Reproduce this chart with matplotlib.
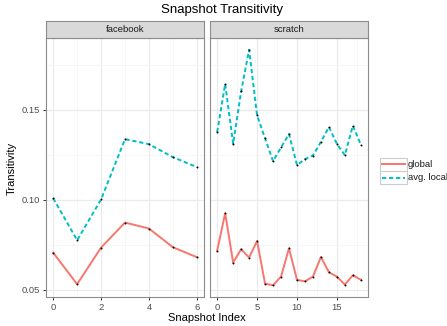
import numpy as np
import matplotlib.pyplot as plt
from matplotlib.patches import Rectangle
from matplotlib.lines import Line2D

fb_global = [0.0707, 0.0532, 0.0735, 0.0874, 0.0841, 0.0737, 0.0682]
fb_local = [0.1009, 0.0776, 0.1002, 0.1337, 0.1309, 0.1237, 0.1182]

sc_global = [0.0718, 0.0926, 0.0652, 0.0726, 0.0680, 0.0772, 0.0535, 0.0526, 0.0574, 0.0731,
             0.0556, 0.0548, 0.0574, 0.0683, 0.0598, 0.0574, 0.0530, 0.0581, 0.0557]
sc_local = [0.1376, 0.1643, 0.1311, 0.1602, 0.1833, 0.1469, 0.1341, 0.1215, 0.1291, 0.1365,
            0.1193, 0.1226, 0.1246, 0.1322, 0.1404, 0.1311, 0.1248, 0.1411, 0.1307]

panels = [("facebook", fb_global, fb_local, [0, 2, 4, 6], [1, 3, 5]),
          ("scratch", sc_global, sc_local, [0, 5, 10, 15], [2.5, 7.5, 12.5, 17.5])]

col_g = "#F8766D"
col_l = "#00BFC4"
dash = (0, (2.2, 1.4))
W, H = 447, 326

plt.rcParams['font.family'] = ['Liberation Sans', 'DejaVu Sans']
fig = plt.figure(figsize=(W / 100, H / 100), dpi=100)

ylo, yhi = 0.0461, 0.1898
lefts = [46, 210]
pw = 158
top, bot = 38, 297

for i, (name, g, l, maj, mnr) in enumerate(panels):
    ax = fig.add_axes([lefts[i] / W, (H - bot) / H, pw / W, (bot - top) / H])
    x = np.arange(len(g))
    n = len(g) - 1
    ax.set_xlim(-0.05 * n, n * 1.05)
    ax.set_ylim(ylo, yhi)
    ax.set_xticks(maj)
    ax.set_xticks(mnr, minor=True)
    ax.set_yticks([0.05, 0.10, 0.15])
    ax.set_yticks([0.075, 0.125, 0.175], minor=True)
    ax.grid(True, which='major', color='#EBEBEB', lw=0.9)
    ax.grid(True, which='minor', color='#F5F5F5', lw=0.6)
    ax.set_axisbelow(True)
    for s in ax.spines.values():
        s.set_color('#8C8C8C')
        s.set_linewidth(0.8)
    ax.tick_params(which='major', length=2.5, width=0.7, color='#333333',
                   labelsize=6.8, labelcolor='#4D4D4D', pad=1.5)
    ax.tick_params(which='minor', length=0)
    ax.plot(x, g, color=col_g, lw=1.4, zorder=3)
    ax.plot(x, l, color=col_l, lw=1.4, ls=dash, zorder=3)
    ax.scatter(x, g, s=2, color='black', lw=0, zorder=4)
    ax.scatter(x, l, s=2, color='black', lw=0, zorder=4)
    if i == 0:
        ax.set_yticklabels(["0.05", "0.10", "0.15"])
    else:
        ax.set_yticklabels([])
        ax.tick_params(axis='y', which='major', length=0)
    # strip
    sax = fig.add_axes([lefts[i] / W, (H - top) / H, pw / W, 17 / H])
    sax.set_xticks([])
    sax.set_yticks([])
    sax.set_facecolor('#D9D9D9')
    for s in sax.spines.values():
        s.set_color('#8C8C8C')
        s.set_linewidth(0.8)
    sax.text(0.5, 0.5, name, ha='center', va='center', fontsize=6.8, color='#1A1A1A')

fig.text(222 / W, 1 - 10 / H, "Snapshot Transitivity", ha='center', va='center', fontsize=9.5)
fig.text(207 / W, 1 - 318 / H, "Snapshot Index", ha='center', va='center', fontsize=8)
fig.text(12 / W, 1 - 168 / H, "Transitivity", ha='center', va='center', fontsize=8, rotation=90)

# legend
for k, (lab, c, ls) in enumerate([("global", col_g, '-'), ("avg. local", col_l, dash)]):
    y0 = 157.5 + k * 13.5
    fig.patches.append(Rectangle((380 / W, 1 - (y0 + 13.5) / H), 26.5 / W, 13.5 / H,
                                 transform=fig.transFigure, facecolor='white',
                                 edgecolor='#CCCCCC', lw=0.8))
    yc = 1 - (y0 + 6.75) / H
    fig.lines.append(Line2D([382 / W, 404.5 / W], [yc, yc], transform=fig.transFigure,
                            color=c, lw=1.4, ls=ls))
    fig.text(408 / W, yc, lab, ha='left', va='center', fontsize=6.8, color='#1A1A1A')

fig.savefig("out.png", dpi=100)
